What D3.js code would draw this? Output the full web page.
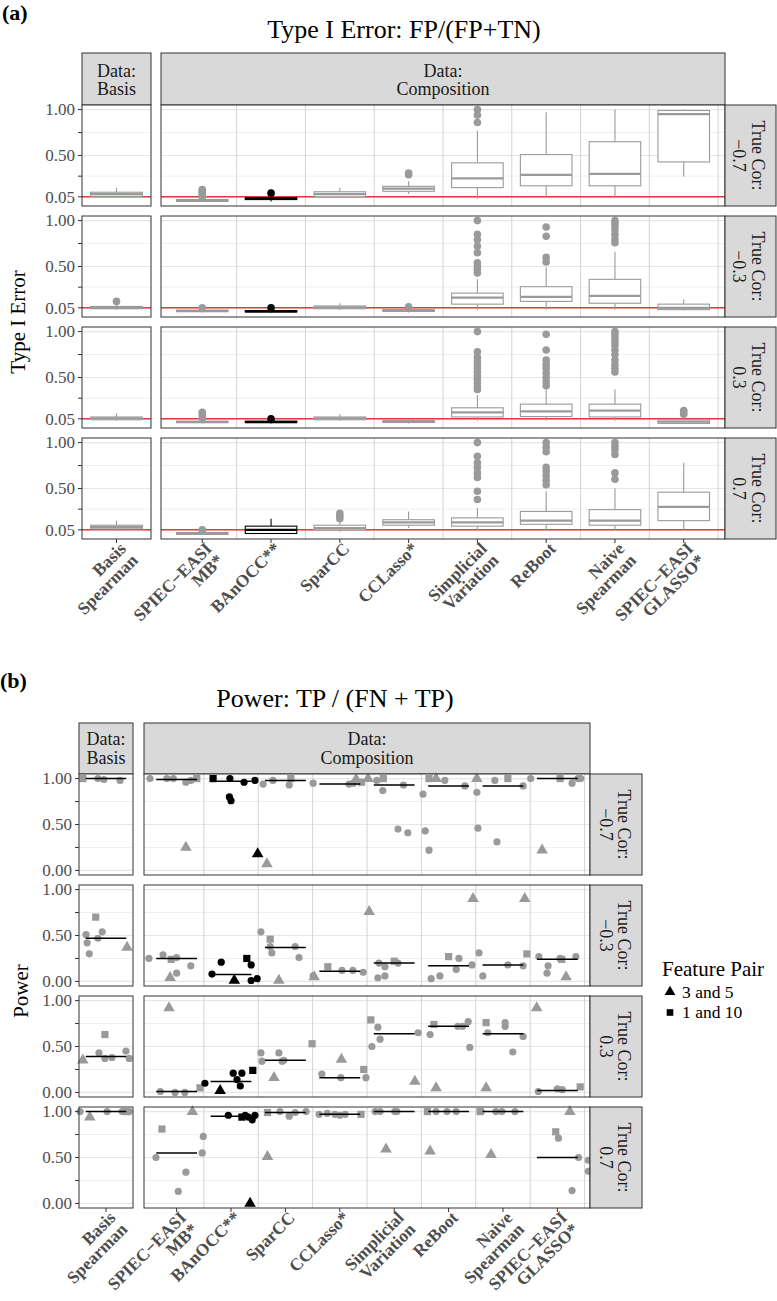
<!DOCTYPE html>
<html><head><meta charset="utf-8">
<script src="https://cdn.jsdelivr.net/npm/d3@7"></script>
<style>body{margin:0;background:#fff} svg{display:block}</style>
</head><body>
<script>
// ---------- DATA ----------
const methods = ["Basis\nSpearman","SPIEC\u2212EASI\nMB*","BAnOCC**","SparCC","CCLasso*","Simplicial\nVariation","ReBoot","Naive\nSpearman","SPIEC\u2212EASI\nGLASSO*"];
const corLabels = ["\u22120.7","\u22120.3","0.3","0.7"];
const typeITicks = [0.05,0.5,1.0];
const typeITickLabels = ["0.05","0.50","1.00"];
const typeIMinor = [0.275,0.75];
const powerTicks = [0,0.5,1.0];
const powerTickLabels = ["0.00","0.50","1.00"];
const powerMinor = [0.25,0.75];
const alphaLevel = 0.05;

// Type I error boxplots: [lower whisker, q1, median, q3, upper whisker] per method
const typeIBox_m07 = [[0.05,0.055,0.08,0.10,0.15],[0.0,0.0,0.01,0.02,0.04],[0.0,0.02,0.03,0.04,0.06],[0.04,0.05,0.08,0.105,0.15],[0.08,0.11,0.14,0.165,0.22],[0.03,0.15,0.25,0.42,0.77],[0.04,0.17,0.29,0.51,0.97],[0.04,0.17,0.30,0.65,1.0],[0.27,0.43,0.95,0.99,1.0]];
const typeIOut_m07 = [[],[0.05,0.06,0.08,0.10,0.12,0.13],[0.09],[],[0.29,0.31],[0.86,0.94,1.0],[],[],[]];
const typeIBox_m03 = [[0.03,0.04,0.05,0.065,0.09],[0.0,0.01,0.015,0.025,0.04],[0.0,0.005,0.01,0.02,0.03],[0.03,0.04,0.055,0.07,0.10],[0.0,0.01,0.02,0.03,0.04],[0.03,0.09,0.16,0.21,0.36],[0.03,0.12,0.17,0.28,0.49],[0.03,0.10,0.18,0.36,0.66],[0.02,0.03,0.05,0.09,0.14]];
const typeIOut_m03 = [[0.12],[0.05],[0.05],[],[0.06],[0.43,0.47,0.50,0.54,0.65,0.72,0.79,0.85,1.0],[0.55,0.60,0.83,0.93],[0.76,0.80,0.85,0.90,0.94,0.97,1.0],[]];
const typeIBox_p03 = [[0.03,0.04,0.055,0.07,0.11],[0.0,0.01,0.015,0.025,0.04],[0.0,0.01,0.015,0.025,0.04],[0.03,0.04,0.055,0.07,0.10],[0.0,0.01,0.02,0.03,0.05],[0.03,0.07,0.12,0.17,0.31],[0.03,0.075,0.13,0.21,0.37],[0.03,0.07,0.14,0.21,0.37],[0.0,0.0,0.02,0.04,0.06]];
const typeIOut_p03 = [[],[0.06,0.10,0.12],[0.05],[],[],[0.37,0.40,0.44,0.48,0.52,0.56,0.60,0.64,0.68,0.72,0.78,1.0],[0.41,0.45,0.50,0.55,0.60,0.64,0.69,0.80,0.97],[0.56,0.60,0.64,0.69,0.75,0.80,0.85,0.89,0.93,0.97,1.0],[0.10,0.12,0.14]];
const typeIBox_p07 = [[0.05,0.06,0.08,0.10,0.15],[0.0,0.0,0.01,0.02,0.03],[0.01,0.01,0.05,0.09,0.17],[0.03,0.05,0.07,0.10,0.13],[0.07,0.10,0.13,0.16,0.25],[0.04,0.09,0.13,0.18,0.29],[0.04,0.11,0.15,0.25,0.47],[0.04,0.10,0.15,0.27,0.50],[0.05,0.15,0.30,0.46,0.78]];
const typeIOut_p07 = [[],[0.04,0.05],[],[0.17,0.20,0.23],[],[0.38,0.47,0.62,0.67,0.73,0.78,0.85,1.0],[0.54,0.59,0.64,0.69,0.73,0.90,0.95,1.0],[0.60,0.67,0.87,0.92,0.96,1.0],[]];

// Power points: [method index, jitter offset (category units), power, feature pair: c=other, t=3 and 5, s=1 and 10]
const power_m07 = [[0,-0.43,1.0,"s"],[0,-0.15,1.0,"c"],[0,-0.04,0.99,"c"],[0,0.26,0.98,"c"],
 [1,-0.49,1.0,"c"],[1,-0.18,1.0,"c"],[1,-0.06,1.0,"c"],[1,0.17,0.96,"c"],[1,0.26,0.98,"c"],[1,0.37,1.0,"s"],[1,0.17,0.25,"t"],
 [2,-0.33,1.0,"s"],[2,-0.02,1.0,"c"],[2,-0.03,0.80,"c"],[2,0.0,0.76,"c"],[2,0.24,0.96,"c"],[2,0.44,0.98,"c"],[2,0.49,0.18,"t"],
 [3,-0.41,0.94,"c"],[3,-0.23,0.98,"c"],[3,0.07,0.93,"c"],[3,0.10,1.0,"s"],[3,-0.34,0.07,"t"],
 [4,-0.49,0.95,"c"],[4,0.17,0.94,"c"],[4,0.25,0.95,"c"],[4,0.40,0.96,"s"],[4,0.30,0.99,"t"],
 [5,-0.48,1.0,"t"],[5,-0.32,0.98,"c"],[5,-0.21,0.87,"c"],[5,-0.20,1.0,"s"],[5,0.17,0.93,"c"],[5,0.07,0.45,"c"],[5,0.25,0.41,"c"],
 [6,-0.36,1.0,"s"],[6,-0.23,1.0,"t"],[6,-0.07,0.98,"c"],[6,-0.47,0.83,"c"],[6,0.30,0.92,"c"],[6,-0.43,0.43,"c"],[6,-0.36,0.22,"c"],
 [7,-0.48,1.0,"t"],[7,-0.48,0.85,"c"],[7,-0.15,0.98,"c"],[7,0.09,1.0,"s"],[7,0.37,0.92,"c"],[7,-0.46,0.46,"c"],[7,-0.11,0.31,"c"],
 [8,-0.49,1.0,"c"],[8,0.05,1.0,"s"],[8,0.27,0.95,"c"],[8,0.38,1.0,"c"],[8,0.43,1.0,"c"],[8,-0.28,0.22,"t"]];
const powerMed_m07 = [1.0,0.99,0.97,0.98,0.94,0.93,0.92,0.92,1.0];
const power_m03 = [[0,-0.37,0.51,"c"],[0,-0.35,0.42,"c"],[0,-0.31,0.30,"c"],[0,-0.15,0.47,"c"],[0,-0.07,0.54,"c"],[0,-0.19,0.70,"s"],[0,0.39,0.37,"t"],
 [1,-0.51,0.25,"c"],[1,-0.25,0.29,"c"],[1,-0.10,0.24,"s"],[1,0.0,0.26,"c"],[1,0.0,0.09,"c"],[1,0.26,0.17,"c"],[1,-0.12,0.04,"t"],
 [2,-0.35,0.08,"c"],[2,-0.18,0.21,"c"],[2,0.37,0.18,"c"],[2,0.37,0.01,"c"],[2,0.48,0.03,"c"],[2,0.06,0.01,"t"],[2,0.29,0.25,"s"],
 [3,-0.45,0.54,"c"],[3,-0.28,0.38,"c"],[3,-0.25,0.31,"c"],[3,0.18,0.38,"c"],[3,0.25,0.26,"c"],[3,-0.28,0.46,"s"],[3,-0.12,0.01,"t"],
 [4,-0.49,0.06,"c"],[4,0.04,0.12,"c"],[4,0.24,0.12,"c"],[4,0.43,0.10,"c"],[4,-0.47,0.05,"t"],[4,-0.22,0.16,"s"],
 [5,-0.46,0.76,"t"],[5,-0.30,0.04,"c"],[5,-0.17,0.06,"c"],[5,-0.28,0.20,"c"],[5,-0.17,0.16,"c"],[5,0.07,0.20,"c"],[5,0.0,0.22,"s"],
 [6,-0.32,0.03,"c"],[6,-0.16,0.06,"c"],[6,0.14,0.13,"c"],[6,0.19,0.25,"c"],[6,0.43,0.18,"c"],[6,0.0,0.27,"s"],[6,0.45,0.90,"t"],
 [7,-0.44,0.31,"c"],[7,-0.37,0.06,"c"],[7,0.09,0.18,"c"],[7,0.37,0.17,"c"],[7,0.44,0.30,"s"],[7,0.40,0.90,"t"],
 [8,-0.34,0.27,"c"],[8,-0.17,0.17,"c"],[8,-0.19,0.09,"c"],[8,0.05,0.25,"c"],[8,0.34,0.27,"c"],[8,0.08,0.24,"s"],[8,0.16,0.05,"t"]];
const powerMed_m03 = [0.47,0.25,0.075,0.37,0.11,0.20,0.17,0.18,0.24];
const power_p03 = [[0,-0.43,0.35,"t"],[0,-0.13,0.43,"c"],[0,-0.02,0.37,"c"],[0,0.11,0.38,"c"],[0,0.37,0.45,"c"],[0,0.43,0.37,"c"],[0,-0.02,0.63,"s"],
 [1,-0.14,0.92,"t"],[1,-0.30,0.01,"c"],[1,-0.03,0.0,"c"],[1,0.15,0.0,"c"],[1,0.43,0.05,"s"],
 [2,-0.48,0.10,"c"],[2,0.04,0.21,"c"],[2,0.20,0.21,"c"],[2,0.11,0.14,"c"],[2,0.17,0.07,"c"],[2,0.40,0.24,"s"],[2,-0.20,0.02,"t"],
 [3,-0.45,0.43,"c"],[3,-0.43,0.34,"c"],[3,-0.12,0.43,"c"],[3,-0.06,0.34,"c"],[3,-0.03,0.35,"c"],[3,0.49,0.53,"s"],[3,-0.21,0.16,"t"],
 [4,-0.33,0.20,"c"],[4,0.02,0.16,"c"],[4,0.48,0.16,"c"],[4,0.03,0.36,"t"],[4,0.44,0.25,"s"],
 [5,-0.43,0.79,"s"],[5,-0.30,0.71,"c"],[5,-0.26,0.58,"c"],[5,-0.41,0.50,"c"],[5,0.44,0.65,"c"],[5,0.38,0.12,"t"],
 [6,-0.34,0.63,"c"],[6,-0.27,0.74,"s"],[6,0.17,0.72,"c"],[6,0.26,0.72,"c"],[6,0.36,0.77,"c"],[6,0.39,0.49,"c"],[6,-0.23,0.05,"t"],
 [7,-0.31,0.76,"s"],[7,-0.28,0.65,"c"],[7,0.04,0.76,"c"],[7,0.04,0.72,"c"],[7,0.37,0.61,"c"],[7,0.18,0.44,"c"],[7,-0.31,0.05,"t"],
 [8,-0.38,0.92,"t"],[8,-0.35,0.01,"c"],[8,0.0,0.04,"c"],[8,0.09,0.03,"c"],[8,0.42,0.06,"s"]];
const powerMed_p03 = [0.39,0.01,0.12,0.35,0.16,0.64,0.72,0.64,0.02];
const power_p07 = [[0,-0.48,1.0,"c"],[0,-0.30,0.94,"t"],[0,0.02,1.0,"c"],[0,0.30,1.0,"c"],[0,0.43,1.0,"c"],[0,0.39,1.0,"s"],
 [1,-0.27,0.81,"s"],[1,0.29,1.0,"t"],[1,-0.38,0.50,"c"],[1,0.17,0.34,"c"],[1,0.03,0.13,"c"],[1,0.49,0.73,"c"],[1,0.47,0.55,"c"],
 [2,-0.05,0.96,"c"],[2,0.26,0.96,"c"],[2,0.32,0.94,"c"],[2,0.39,0.91,"c"],[2,0.44,0.96,"c"],[2,0.20,0.94,"s"],[2,0.35,0.0,"t"],
 [3,-0.33,0.99,"s"],[3,-0.33,0.51,"t"],[3,-0.10,1.0,"c"],[3,0.07,0.95,"c"],[3,0.18,0.99,"c"],[3,0.38,1.0,"c"],
 [4,-0.38,0.97,"c"],[4,-0.23,0.98,"c"],[4,-0.09,0.97,"c"],[4,0.0,0.96,"c"],[4,0.10,0.97,"c"],[4,0.39,0.97,"s"],
 [5,-0.35,1.0,"c"],[5,-0.26,1.0,"c"],[5,0.01,1.0,"c"],[5,0.05,1.0,"c"],[5,-0.15,0.59,"t"],
 [6,-0.39,1.0,"s"],[6,-0.23,1.0,"c"],[6,-0.03,1.0,"c"],[6,0.14,1.0,"c"],[6,-0.34,0.57,"t"],
 [7,-0.42,1.0,"s"],[7,-0.40,1.0,"c"],[7,-0.13,1.0,"c"],[7,-0.02,1.0,"c"],[7,0.22,1.0,"c"],[7,-0.22,0.53,"t"],
 [8,-0.03,0.78,"s"],[8,0.02,0.71,"c"],[8,0.23,1.0,"t"],[8,0.27,0.14,"c"],[8,0.39,0.50,"c"],[8,0.57,0.47,"c"],[8,0.57,0.35,"c"]];
const powerMed_p07 = [1.0,0.55,0.95,0.99,0.97,1.0,1.0,1.0,0.50];

const legendLabels = ["3 and 5","1 and 10"];
const legendShapes = ["t","s"];

// ---------- DRAWING ----------
const W=777,H=1301;
const serif="'Liberation Serif','Times New Roman',Times,serif";
const grey="#9a9a9a", dark="#333333", txtGrey="#4d4d4d";
const svg=d3.select("body").append("svg").attr("width",W).attr("height",H)
  .style("font-family",serif);
const colOf=m=> m===2 ? "#000" : grey;

function facet(o){
  const g=svg.append("g");
  const rowTops=d3.range(4).map(i=>o.top+i*(o.rowH+o.gap));
  const xb=d3.scaleLinear().domain([0.5,1.5]).range(o.basisX);
  const xc=d3.scaleLinear().domain([0.4,8.6]).range(o.compX);
  const xPos=(m,dx)=> m===0 ? xb(1+dx) : xc(m+dx);
  const unit=m=> m===0 ? (xb(1)-xb(0)) : (xc(1)-xc(0));
  // top strips
  [[o.basisX,"Data:\nBasis"],[o.compX,"Data:\nComposition"]].forEach(([xr,lab])=>{
    g.append("rect").attr("x",xr[0]).attr("y",o.stripTop).attr("width",xr[1]-xr[0]).attr("height",o.top-o.stripTop)
      .attr("fill","#d9d9d9").attr("stroke",dark).attr("stroke-width",1);
    const t=g.append("text").attr("text-anchor","middle").attr("font-size",18).attr("fill","#1a1a1a");
    lab.split("\n").forEach((l,i)=>t.append("tspan").attr("x",(xr[0]+xr[1])/2).attr("y",o.stripTextY[i]).text(l));
  });
  rowTops.forEach((top,ri)=>{
    const y=d3.scaleLinear().domain([-0.05,1.05]).range([top+o.rowH, top]);
    [o.basisX,o.compX].forEach((xr,pi)=>{
      const p=g.append("g");
      p.append("rect").attr("x",xr[0]).attr("y",top).attr("width",xr[1]-xr[0]).attr("height",o.rowH).attr("fill","#fff");
      p.selectAll(".mn").data(o.minor).join("line").attr("x1",xr[0]).attr("x2",xr[1]).attr("y1",d=>y(d)).attr("y2",d=>y(d))
        .attr("stroke","#f0f0f0").attr("stroke-width",1);
      p.selectAll(".mj").data(o.ticks).join("line").attr("x1",xr[0]).attr("x2",xr[1]).attr("y1",d=>y(d)).attr("y2",d=>y(d))
        .attr("stroke","#e6e6e6").attr("stroke-width",1.2);
      if(pi===1){
        p.selectAll(".vl").data(d3.range(1.5,9,1)).join("line").attr("x1",d=>xc(d)).attr("x2",d=>xc(d))
          .attr("y1",top).attr("y2",top+o.rowH).attr("stroke","#cfcfcf").attr("stroke-width",0.9);
      }
      if(o.refLine!=null){
        p.append("line").attr("x1",xr[0]).attr("x2",xr[1]).attr("y1",y(o.refLine)).attr("y2",y(o.refLine))
          .attr("stroke","#e8383b").attr("stroke-width",1.5);
      }
    });
    o.drawRow(g,ri,y,xPos,unit);
    // borders
    [o.basisX,o.compX].forEach(xr=>{
      g.append("rect").attr("x",xr[0]).attr("y",top).attr("width",xr[1]-xr[0]).attr("height",o.rowH)
        .attr("fill","none").attr("stroke",dark).attr("stroke-width",1);
    });
    // y axis
    const ya=g.append("g");
    ya.selectAll("line").data(o.ticks.concat(o.minor)).join("line").attr("x1",o.basisX[0]-4).attr("x2",o.basisX[0])
      .attr("y1",d=>y(d)).attr("y2",d=>y(d)).attr("stroke",dark);
    ya.selectAll("text").data(o.ticks).join("text").attr("x",o.basisX[0]-7).attr("y",d=>y(d)).attr("dy","0.34em")
      .attr("text-anchor","end").attr("font-size",17).attr("fill",txtGrey).text((d,i)=>o.tickLabels[i]);
    // right strip
    g.append("rect").attr("x",o.stripR[0]).attr("y",top).attr("width",o.stripR[1]-o.stripR[0]).attr("height",o.rowH)
      .attr("fill","#d9d9d9").attr("stroke",dark).attr("stroke-width",1);
    const rt=g.append("text").attr("transform",`translate(${(o.stripR[0]+o.stripR[1])/2},${top+o.rowH/2}) rotate(90)`)
      .attr("text-anchor","middle").attr("font-size",18).attr("fill","#1a1a1a");
    rt.append("tspan").attr("x",0).attr("y",o.rStripY[0]).text("True Cor:");
    rt.append("tspan").attr("x",0).attr("y",o.rStripY[1]).text(corLabels[ri]);
  });
  // x axis
  const bottom=rowTops[3]+o.rowH;
  methods.forEach((lab,m)=>{
    const x=xPos(m,0);
    g.append("line").attr("x1",x).attr("x2",x).attr("y1",bottom).attr("y2",bottom+4).attr("stroke",dark);
    const t=g.append("text").attr("transform",`translate(${x},${bottom+3}) rotate(-45)`)
      .attr("text-anchor","end").attr("font-size",17.5).attr("font-weight","bold").attr("fill",txtGrey);
    lab.split("\n").forEach((l,i)=>t.append("tspan").attr("x",2).attr("y",13+i*16.5).text(l));
  });
  // y title
  svg.append("text").attr("transform",`translate(${o.yTitleX},${(rowTops[0]+bottom)/2}) rotate(-90)`)
    .attr("text-anchor","middle").attr("font-size",21).attr("fill","#000").text(o.yTitle);
}

// ---- (a) Type I error ----
const typeIRows=[[typeIBox_m07,typeIOut_m07],[typeIBox_m03,typeIOut_m03],[typeIBox_p03,typeIOut_p03],[typeIBox_p07,typeIOut_p07]];
facet({
  top:105,rowH:101,gap:10,stripTop:53,stripTextY:[77,95],
  basisX:[82,151],compX:[161,725],stripR:[725,776],rStripY:[-1.5,17.5],
  ticks:typeITicks,tickLabels:typeITickLabels,minor:typeIMinor,refLine:alphaLevel,
  yTitle:"Type I Error",yTitleX:25,
  drawRow:(g,ri,y,xPos,unit)=>{
    const [boxes,outs]=typeIRows[ri];
    boxes.forEach((s,m)=>{
      const col=colOf(m), x=xPos(m,0), w=0.75*unit(m);
      g.selectAll(null).data(outs[m]).join("circle").attr("cx",x).attr("cy",d=>y(d)).attr("r",3.8).attr("fill",col);
      g.append("line").attr("x1",x).attr("x2",x).attr("y1",y(s[0])).attr("y2",y(s[1])).attr("stroke",col).attr("stroke-width",1.1);
      g.append("line").attr("x1",x).attr("x2",x).attr("y1",y(s[3])).attr("y2",y(s[4])).attr("stroke",col).attr("stroke-width",1.1);
      g.append("rect").attr("x",x-w/2).attr("y",y(s[3])).attr("width",w).attr("height",Math.max(0.5,y(s[1])-y(s[3])))
        .attr("fill","#fff").attr("stroke",col).attr("stroke-width",1.1);
      g.append("line").attr("x1",x-w/2).attr("x2",x+w/2).attr("y1",y(s[2])).attr("y2",y(s[2])).attr("stroke",col).attr("stroke-width",2.2);
    });
  }
});

// ---- (b) Power ----
const powerRows=[[power_m07,powerMed_m07],[power_m03,powerMed_m03],[power_p03,powerMed_p03],[power_p07,powerMed_p07]];
const sym={c:null,t:d3.symbol(d3.symbolTriangle,58)(),s:d3.symbol(d3.symbolSquare,52)()};
facet({
  top:774,rowH:101,gap:10,stripTop:723,stripTextY:[745,764],
  basisX:[79,133],compX:[144,590],stripR:[590,642],rStripY:[-2,16],
  ticks:powerTicks,tickLabels:powerTickLabels,minor:powerMinor,refLine:null,
  yTitle:"Power",yTitleX:28,
  drawRow:(g,ri,y,xPos,unit)=>{
    const [pts,meds]=powerRows[ri];
    pts.forEach(([m,dx,v,sh])=>{
      const x=xPos(m,dx), yy=y(v), col=colOf(m);
      if(sh==="c") g.append("circle").attr("cx",x).attr("cy",yy).attr("r",3.6).attr("fill",col);
      else g.append("path").attr("d",sym[sh]).attr("transform",`translate(${x},${yy})`).attr("fill",col);
    });
    meds.forEach((v,m)=>{
      g.append("line").attr("x1",xPos(m,-0.375)).attr("x2",xPos(m,0.375)).attr("y1",y(v)).attr("y2",y(v))
        .attr("stroke","#000").attr("stroke-width",1.5);
    });
  }
});

// legend
const lg=svg.append("g");
lg.append("text").attr("x",662).attr("y",976).attr("font-size",21).text("Feature Pair");
legendLabels.forEach((l,i)=>{
  const cy=992+i*20.5;
  lg.append("path").attr("d",d3.symbol(legendShapes[i]==="t"?d3.symbolTriangle:d3.symbolSquare,i===0?50:44)()).attr("transform",`translate(670,${cy})`).attr("fill","#000");
  lg.append("text").attr("x",682).attr("y",cy).attr("dy","0.33em").attr("font-size",17.5).text(l);
});

// titles and panel tags
svg.append("text").attr("x",2).attr("y",20).attr("font-size",22).attr("font-weight","bold").text("(a)");
svg.append("text").attr("x",404).attr("y",38).attr("text-anchor","middle").attr("font-size",26).text("Type I Error: FP/(FP+TN)");
svg.append("text").attr("x",0).attr("y",688).attr("font-size",22).attr("font-weight","bold").text("(b)");
svg.append("text").attr("x",335).attr("y",707).attr("text-anchor","middle").attr("font-size",26).text("Power: TP / (FN + TP)");
</script>
</body></html>
